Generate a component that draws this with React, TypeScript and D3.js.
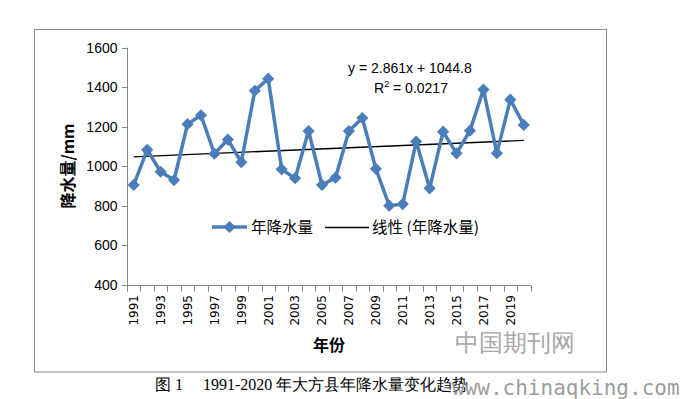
import { useEffect, useRef } from "react";
import * as d3 from "d3";

const years = d3.range(1991, 2021).map(String);
const rainfall = [
  905, 1083, 972, 930, 1213, 1258, 1063, 1135, 1020, 1382,
  1443, 984, 939, 1178, 905, 942, 1178, 1244, 987, 800,
  808, 1125, 888, 1175, 1065, 1180, 1388, 1066, 1337, 1209,
];
const yTicks = [400, 600, 800, 1000, 1200, 1400, 1600];
const trend = { slope: 2.861, intercept: 1044.8, r2: "0.0217" };

const W = 681;
const H = 399;

export default function App() {
  const svgRef = useRef<SVGSVGElement>(null);

  useEffect(() => {
    if (!svgRef.current) return;
    const svg = d3.select(svgRef.current);
    svg.selectAll("*").remove();

    const x = d3.scaleBand().domain(years).range([127, 530.5]);
    const y = d3.scaleLinear().domain([400, 1600]).range([284.7, 47.7]);
    const cx = (d: string) => (x(d) || 0) + x.bandwidth() / 2;
    const axisColor = "#868686";

    // outer frame
    svg.append("rect")
      .attr("x", 34.5).attr("y", 29.5)
      .attr("width", 572).attr("height", 342.5)
      .attr("fill", "white").attr("stroke", "#8c8c8c").attr("stroke-width", 1);

    // y axis
    const ya = svg.append("g");
    ya.append("line")
      .attr("x1", 127.5).attr("x2", 127.5)
      .attr("y1", y(1600)).attr("y2", y(400))
      .attr("stroke", axisColor);
    ya.selectAll(".yt").data(yTicks).enter().append("line")
      .attr("x1", 122).attr("x2", 127.5)
      .attr("y1", d => Math.round(y(d)) + 0.5).attr("y2", d => Math.round(y(d)) + 0.5)
      .attr("stroke", axisColor);
    ya.selectAll(".yl").data(yTicks).enter().append("text")
      .attr("x", 117.5).attr("y", d => y(d))
      .attr("dy", "0.36em")
      .attr("text-anchor", "end")
      .attr("font-family", "Liberation Sans, Arial, sans-serif")
      .attr("font-size", 14)
      .text(d => d);

    // x axis
    const xa = svg.append("g");
    const y0 = Math.round(y(400)) + 0.5;
    xa.append("line")
      .attr("x1", 122).attr("x2", 530.5)
      .attr("y1", y0).attr("y2", y0)
      .attr("stroke", axisColor);
    const bounds = d3.range(years.length + 1).map(i => 127 + i * x.step());
    xa.selectAll(".xt").data(bounds).enter().append("line")
      .attr("x1", d => Math.round(d) + 0.5).attr("x2", d => Math.round(d) + 0.5)
      .attr("y1", y0).attr("y2", y0 + 6)
      .attr("stroke", axisColor);
    xa.selectAll(".xl").data(years.filter((_, i) => i % 2 === 0)).enter().append("text")
      .attr("transform", d => `translate(${cx(d)},295) rotate(-90)`)
      .attr("text-anchor", "end")
      .attr("dy", "0.36em")
      .attr("font-family", "DejaVu Sans, sans-serif")
      .attr("font-size", 12)
      .text(d => d);

    // axis titles
    svg.append("text")
      .attr("transform", "translate(68,166) rotate(-90)")
      .attr("text-anchor", "middle")
      .attr("dy", "0.36em")
      .attr("font-family", "Noto Sans CJK SC, sans-serif")
      .attr("font-weight", "bold")
      .attr("font-size", 16)
      .text("降水量/mm");
    svg.append("text")
      .attr("x", 329).attr("y", 351)
      .attr("text-anchor", "middle")
      .attr("font-family", "Noto Sans CJK SC, sans-serif")
      .attr("font-weight", "bold")
      .attr("font-size", 16)
      .text("年份");

    // trend line
    const tY = (i: number) => trend.slope * (i + 1) + trend.intercept;
    svg.append("line")
      .attr("x1", cx(years[0])).attr("y1", y(tY(0)))
      .attr("x2", cx(years[years.length - 1])).attr("y2", y(tY(years.length - 1)))
      .attr("stroke", "black").attr("stroke-width", 1.3);

    // series
    const blue = "#4a7ebb";
    const line = d3.line<number>()
      .x((_, i) => cx(years[i]))
      .y(d => y(d));
    svg.append("path")
      .datum(rainfall)
      .attr("d", line)
      .attr("fill", "none")
      .attr("stroke", blue)
      .attr("stroke-width", 3.5)
      .attr("stroke-linejoin", "round");
    const diamond = d3.symbol().type(d3.symbolDiamond2).size(95);
    svg.selectAll(".pt").data(rainfall).enter().append("path")
      .attr("d", diamond)
      .attr("transform", (d, i) => `translate(${cx(years[i])},${y(d)})`)
      .attr("fill", blue);

    // equation
    const eq = svg.append("g")
      .attr("font-family", "Liberation Sans, Arial, sans-serif")
      .attr("font-size", 14);
    eq.append("text").attr("x", 348).attr("y", 73)
      .text(`y = ${trend.slope}x + ${trend.intercept}`);
    const r = eq.append("text").attr("x", 374).attr("y", 93);
    r.append("tspan").text("R");
    r.append("tspan").attr("font-size", 9).attr("dy", -6).text("2");
    r.append("tspan").attr("dy", 6).text(` = ${trend.r2}`);

    // legend
    const lg = svg.append("g")
      .attr("font-family", "Noto Sans CJK SC, sans-serif")
      .attr("font-size", 15.5);
    lg.append("line")
      .attr("x1", 212).attr("x2", 247).attr("y1", 227).attr("y2", 227)
      .attr("stroke", blue).attr("stroke-width", 3.5);
    lg.append("path").attr("d", diamond)
      .attr("transform", "translate(229.5,227)").attr("fill", blue);
    lg.append("text").attr("x", 251).attr("y", 227).attr("dy", "0.36em").text("年降水量");
    lg.append("line")
      .attr("x1", 325).attr("x2", 369).attr("y1", 227.5).attr("y2", 227.5)
      .attr("stroke", "black").attr("stroke-width", 1.3);
    lg.append("text").attr("x", 372).attr("y", 227).attr("dy", "0.36em").text("线性 (年降水量)");

    // caption
    svg.append("text")
      .attr("x", 155).attr("y", 390)
      .attr("font-family", "serif")
      .attr("font-size", 16)
      .style("white-space", "pre")
      .text("图 1　 1991-2020 年大方县年降水量变化趋势");

    // watermark
    svg.append("text")
      .attr("x", 455).attr("y", 351)
      .attr("font-family", "serif")
      .attr("font-size", 24)
      .attr("fill", "#a8a8a8")
      .text("中国期刊网");
    svg.append("text")
      .attr("x", 452).attr("y", 395)
      .attr("font-family", "DejaVu Sans Mono, monospace")
      .attr("font-size", 21)
      .attr("fill", "#8a8a8a")
      .attr("fill-opacity", 0.85)
      .text("www.chinaqking.com");
  }, []);

  return (
    <svg
      ref={svgRef}
      width={W}
      height={H}
      style={{ position: "absolute", left: 0, top: 0, background: "white" }}
    />
  );
}
